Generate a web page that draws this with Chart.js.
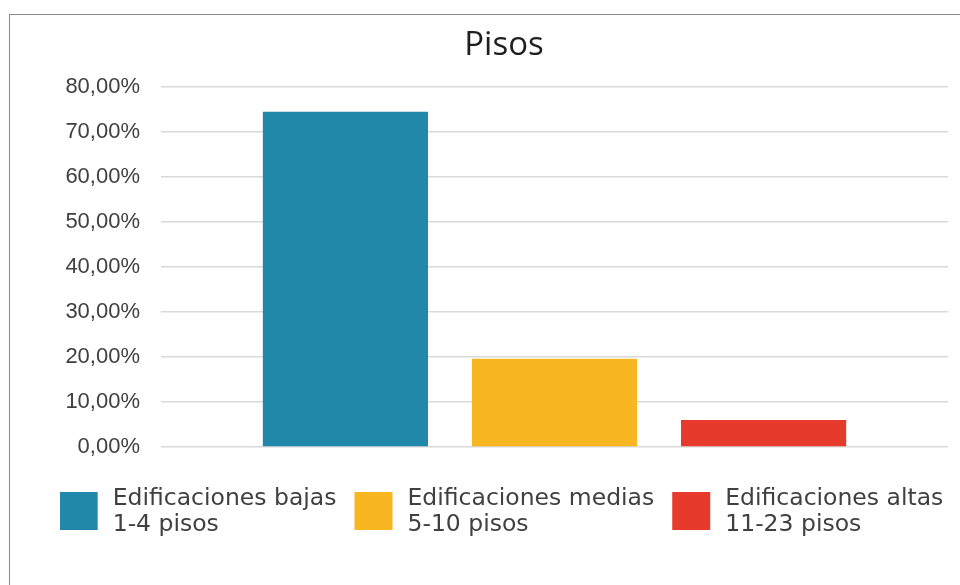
<!DOCTYPE html>
<html><head><meta charset="utf-8">
<script src="https://cdn.jsdelivr.net/npm/chart.js@4.4.1/dist/chart.umd.min.js"></script>
<style>
html,body{margin:0;padding:0;background:#fff;overflow:hidden;}
#frame{position:absolute;left:9px;top:14px;width:1000px;height:1000px;border-left:1px solid #8a8a8a;border-top:1px solid #8a8a8a;}
#wrap{position:absolute;left:60px;top:0;width:900px;height:585px;}
</style></head><body>
<div id="frame"></div>
<div id="wrap"><canvas id="c"></canvas></div>
<script>
const chartTitle = 'Pisos';
const categories = [''];
const seriesNames = [
  ['Edificaciones bajas', '1-4 pisos'],
  ['Edificaciones medias', '5-10 pisos'],
  ['Edificaciones altas', '11-23 pisos']
];
const seriesValues = [74.4, 19.6, 6.0];
const seriesColors = ['#2288AA', '#F8B621', '#E63A2C'];
const yTickLabels = ['0,00%', '10,00%', '20,00%', '30,00%', '40,00%', '50,00%', '60,00%', '70,00%', '80,00%'];

const CANVAS_LEFT = 60;

const legendPlugin = {
  id: 'twoLineLegend',
  afterDraw(chart) {
    const ctx = chart.ctx;
    ctx.save();
    ctx.font = '23.5px "DejaVu Sans"';
    const box = 38, gapText = 15, gapItem = 18;
    const items = chart.data.datasets.map(ds => {
      const lines = ds.label;
      const tw = Math.max(...lines.map(l => ctx.measureText(l).width));
      return { lines, color: ds.backgroundColor, tw, w: box + gapText + tw };
    });
    const total = items.reduce((s, it) => s + it.w, 0) + gapItem * (items.length - 1);
    let x = 501.5 - CANVAS_LEFT - total / 2;
    const boxTop = 492, base1 = 505, lineGap = 26;
    items.forEach(it => {
      ctx.fillStyle = it.color;
      ctx.fillRect(x, boxTop, box, box);
      ctx.fillStyle = '#404040';
      ctx.textAlign = 'left';
      ctx.textBaseline = 'alphabetic';
      it.lines.forEach((l, i) => ctx.fillText(l, x + box + gapText, base1 + i * lineGap));
      x += it.w + gapItem;
    });
    ctx.restore();
  }
};

new Chart(document.getElementById('c'), {
  type: 'bar',
  data: {
    labels: categories,
    datasets: seriesNames.map((name, i) => ({
      label: name,
      data: [seriesValues[i]],
      backgroundColor: seriesColors[i],
      borderWidth: 0,
      categoryPercentage: 0.797,
      barPercentage: 0.79
    }))
  },
  options: {
    responsive: true,
    maintainAspectRatio: false,
    animation: false,
    layout: { padding: { left: 0, right: 12, top: 0, bottom: 138 } },
    plugins: {
      legend: { display: false },
      tooltip: { enabled: false },
      title: {
        display: true,
        text: chartTitle,
        color: '#1f1f1f',
        font: { family: '"Open Sans"', size: 33, weight: 'normal' },
        padding: { top: 26, bottom: 21 }
      }
    },
    scales: {
      x: { display: false },
      y: {
        min: 0, max: 80,
        afterFit(scale) { scale.width = 161 - CANVAS_LEFT; },
        ticks: {
          stepSize: 10,
          padding: 21,
          color: '#404040',
          font: { family: '"Liberation Sans"', size: 22 },
          callback: (v, i) => yTickLabels[i]
        },
        grid: { color: '#d9d9d9', lineWidth: 1.5, drawTicks: false },
        border: { display: false }
      }
    }
  },
  plugins: [legendPlugin]
});
</script>
</body></html>
